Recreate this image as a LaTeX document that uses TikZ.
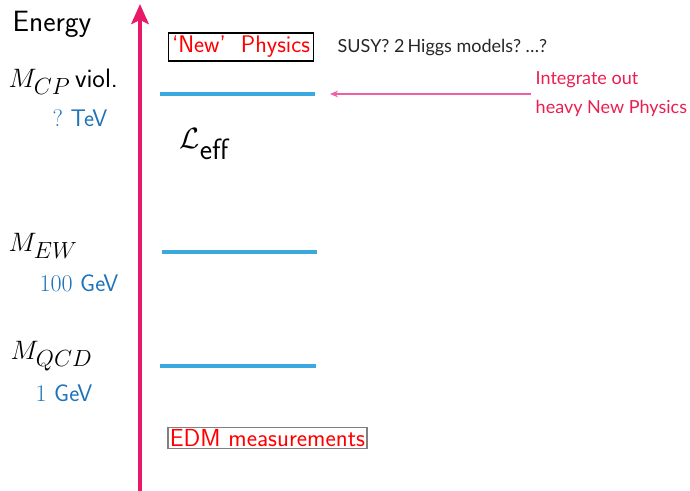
\documentclass[tikz,border=0pt]{standalone}
\usepackage{fix-cm}
\usepackage{fontspec}
\newfontfamily\latofont{Lato}
\usetikzlibrary{arrows.meta}
\DeclareMathSizes{20}{20}{17.5}{12}
\DeclareMathSizes{22}{22}{18}{13}
\definecolor{axispink}{RGB}{232,25,106}
\definecolor{scaleblue}{RGB}{60,168,224}
\definecolor{labelblue}{RGB}{30,115,185}
\definecolor{intred}{RGB}{235,30,80}
\definecolor{arrpink}{RGB}{238,95,165}

\begin{document}
\begin{tikzpicture}[x=0.75pt,y=-0.75pt,>=Stealth,
  scaleline/.style={scaleblue,line width=3pt},
  bluelab/.style={labelblue,anchor=west,font=\sffamily\fontsize{18}{20}\selectfont},
  masslab/.style={anchor=west,font=\fontsize{20}{24}\selectfont},
  slidetxt/.style={font=\sffamily\fontsize{18}{21}\selectfont},
  lato/.style={font=\latofont\fontsize{13.5}{22}\selectfont}]
\useasboundingbox (0,0) rectangle (690,491);
% energy axis
\coordinate (axbot) at (140,491); \coordinate (axtop) at (140,4);
\draw[axispink,line width=3pt,-{Stealth[length=15pt,width=13pt,inset=3pt]}] (axbot) -- (axtop);
\node[slidetxt,font=\sffamily\fontsize{22}{24}\selectfont] (energy) at (52,24) {Energy};
% scales
\coordinate (cpL) at (160,94); \coordinate (cpR) at (315,94);
\coordinate (ewL) at (162,252); \coordinate (ewR) at (317,252);
\coordinate (qcdL) at (160,366); \coordinate (qcdR) at (316,366);
\draw[scaleline] (cpL) -- (cpR) (ewL) -- (ewR) (qcdL) -- (qcdR);
\node[masslab] (mcp) at (4,82) {$M_{CP}$\,{\sffamily\fontsize{20}{22}\selectfont viol.}};
\node[bluelab] (tev) at (48,118) {$?$ TeV};
\node[masslab] (mew) at (4,246) {$M_{EW}$};
\node[bluelab] (gev100) at (35,283) {$100$ GeV};
\node[masslab] (mqcd) at (6,356) {$M_{QCD}$};
\node[bluelab] (gev1) at (31,393) {$1$ GeV};
\node[masslab,font=\fontsize{22}{24}\selectfont] (leff) at (175,144) {$\mathcal{L}_{\textsf{eff}}$};
% new physics and measurements
\node[slidetxt,draw=black,line width=1pt,text=red,inner sep=2.5pt] (newphys) at (241,47) {`New'\ \ Physics};
\node[lato,anchor=west,black!85] (susy) at (333,48) {SUSY?\ 2\,Higgs models?\ …?};
\node[slidetxt,font=\sffamily\fontsize{18.5}{21}\selectfont,draw=gray,line width=1pt,text=red,inner sep=1.5pt] (edm) at (267.5,438) {EDM measurements};
\node[lato,anchor=west,align=left,intred] (integrate) at (531,94) {Integrate out\\heavy New Physics};
\coordinate (cptip) at (330,94);
\draw[arrpink,line width=1pt,-{Stealth[length=6pt,width=5pt]}] (integrate.west) -- (cptip);
\end{tikzpicture}
\end{document}
